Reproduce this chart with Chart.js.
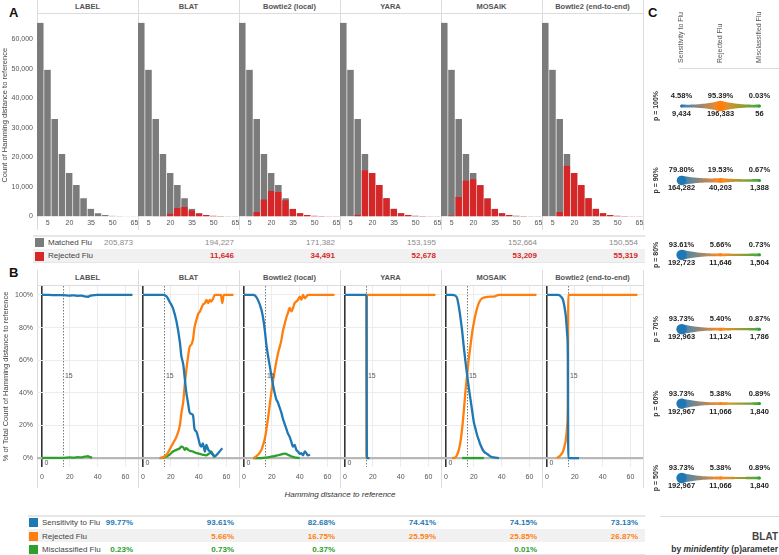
<!DOCTYPE html>
<html>
<head>
<meta charset="utf-8">
<script src="https://cdn.jsdelivr.net/npm/chart.js@4.4.0/dist/chart.umd.min.js"></script>
<style>
  body { margin: 0; background: #fff; }
  #fig { position: relative; width: 779px; height: 555px; overflow: hidden; font-family: "Liberation Sans", Arial, Helvetica, sans-serif; }
  #fig canvas, #fig div { position: absolute; }
  .txt { white-space: nowrap; }
</style>
</head>
<body>
<div id="fig"></div>
<script>
// ---- data ----
const methods = ["LABEL", "BLAT", "Bowtie2 (local)", "YARA", "MOSAIK", "Bowtie2 (end-to-end)"];
const outcomeNames = ["Sensitivity to Flu", "Rejected Flu", "Misclassified Flu"];

// panel A: histogram of hamming distance (bins of 5)
const binDist = [0, 5, 10, 15, 20, 25, 30, 35, 40, 45, 50, 55, 60, 65];
const binTicks = [5, 20, 35, 50, 65];
const countTicks = [0, 10000, 20000, 30000, 40000, 50000, 60000];
const allBins = [65600, 49700, 33000, 21200, 14700, 10700, 6200, 2600, 1100, 500, 250, 150, 100, 60];
const labelRejBins = [0, 0, 0, 0, 0, 0, 0, 0, 0, 0, 0, 0, 0, 0];
const blatRejBins = [0, 30, 80, 250, 950, 2850, 3250, 2050, 1050, 480, 240, 140, 100, 60];
const localRejBins = [0, 100, 1500, 5800, 8600, 8300, 5500, 2500, 1100, 500, 250, 150, 100, 60];
const yaraRejBins = [0, 0, 600, 15700, 14700, 10700, 6200, 2600, 1100, 500, 250, 150, 100, 60];
const mosaikRejBins = [0, 300, 6600, 12200, 12600, 10600, 6100, 2550, 1100, 500, 250, 150, 100, 60];
const e2eRejBins = [0, 0, 1500, 17200, 14700, 10700, 6200, 2600, 1100, 500, 250, 150, 100, 60];

const matchedTotals = [205873, 194227, 171382, 153195, 152664, 150554];
const rejectedTotals = [null, 11646, 34491, 52678, 53209, 55319];

// panel B: % of reads per hamming distance
const distTicks = [0, 20, 40, 60];
const pctTicks = [0, 20, 40, 60, 80, 100];
const cutoffDist = 15;
const originDist = 0;

const labelDist = [0, 5, 10, 15, 20, 23, 26, 28, 30, 32, 33, 34, 36, 40, 50, 60, 65];
const labelSens = [100, 100, 99.9, 99.9, 99.6, 99.8, 99.5, 99.6, 99.3, 99.0, 98.9, 99.3, 99.8, 100, 100, 100, 100];
const labelRej = [];
const labelMis = [0, 0.1, 0.1, 0.1, 0.4, 0.2, 0.5, 0.4, 0.7, 1.0, 1.1, 0.7, 0.2];

const blatDist = [0, 5, 10, 12, 14.5, 17, 19, 21.5, 24, 26.5, 27.5, 29, 30, 31, 32.5, 33.5, 35, 36, 37, 38.5, 39.5, 41, 42, 43, 44.5, 45.5, 47, 48, 49, 50.5, 51.5, 53, 54, 56, 57, 58, 60, 65];
const blatSens = [100, 100, 100, 100, 100, 99, 96, 92, 84, 71, 63, 57, 49, 41, 33, 28, 27, 26, 18, 16, 13, 8, 7, 9, 4, 8, 5, 4, 3, 2, 1, 2, 3, 5, 6];
const blatRej = [null, null, null, 0, 0.5, 2, 5, 9, 13, 20, 27, 35, 45, 53, 63, 68, 70, 73, 80, 85, 88, 90, 92, 94, 95, 97, 95, 97, 96, 98, 100, 100, 100, 100, 95, 100, 100, 100];
const blatMis = [null, null, null, 0, 0.2, 1, 2, 4, 5, 6, 7, 6.5, 5, 6, 5, 4.5, 4.2, 4, 3.5, 3, 2.8, 2.5, 2.3, 2, 1.8, 1.6, 2.5, 3, 4, 1.6, 0.4];

const localDist = [0, 5, 6.5, 8, 10, 12.5, 13.7, 15, 16, 17.2, 18.4, 19.6, 20.8, 22, 23.2, 24.4, 25.6, 26.8, 28, 29.2, 30.4, 31.6, 32.8, 34, 35.2, 36.4, 37.6, 38.8, 40, 41.2, 42.4, 43.7, 44.8, 46, 47.5, 50, 55, 60, 65];
const localSens = [100, 100, 100, 99.6, 97, 91, 86, 78, 70, 63, 57, 51, 45, 40, 36, 34, 31, 28, 24, 21, 18, 15, 13, 10, 7, 8, 5, 4, 2.5, 3, 1.6, 4, 3, 1.6, 2];
const localRej = [null, null, 0, 0.5, 2, 5, 8, 12, 17, 24, 32, 40, 47, 53, 59, 64, 68, 72, 78, 82, 86, 89, 92, 90, 92, 95, 96, 97, 99, 97, 100, 98, 99, 100, 100, 100, 100, 100, 100];
const localMis = [null, null, 0, 0, 0, 0, 0.1, 0.2, 0.3, 0.4, 0.6, 0.8, 1, 1.2, 1.5, 1.7, 2, 2.2, 2.5, 2.7, 2.5, 2, 1.6, 1, 0.7, 0.4, 0.2, 0.1, 0];

const yaraDist = [0, 5, 10, 15, 15.4, 15.5, 15.7, 16, 17.5, 20, 30, 40, 50, 60, 65];
const yaraSens = [100, 100, 100, 100, 99, 60, 0, 0, 0];
const yaraRej = [null, null, null, null, null, 0, 100, 100, 100, 100, 100, 100, 100, 100, 100];
const yaraMis = [];

const mosaikDist = [0, 4.3, 6.7, 8, 9.2, 10.4, 11.6, 12.8, 14, 15.2, 16.4, 17.6, 18.8, 20, 21.2, 22.4, 23.6, 24.8, 27.2, 29.6, 32, 34.4, 38, 40, 50, 60, 65];
const mosaikSens = [100, 100, 99.6, 98, 93, 86, 78, 68, 59, 51, 43, 36, 29, 22, 18, 14, 11, 8, 4, 2.5, 1, 0.4, 0];
const mosaikRej = [null, 0, 0.4, 2, 5, 10, 18, 29, 41, 51, 61, 69, 77, 83, 88, 92, 95, 97, 98.4, 98.8, 99, 99, 100, 100, 100, 100, 100];
const mosaikMis = [null, null, null, null, null, null, 0, 0, 0, 0, 0, 0, 0, 0, 0, 0, 0, 0, 0];

const e2eDist = [0, 5, 7, 8, 9, 10, 11.5, 12.5, 13.5, 14.5, 15, 15.3, 16, 20, 23, 30, 40, 50, 60, 65];
const e2eSens = [100, 100, 100, 100, 99.8, 99, 97, 93, 87, 76, 62, 0, 0, 0, 0];
const e2eRej = [null, null, 0, 0.5, 1.2, 2, 4, 7, 11, 20, 35, 100, 100, 100, 100, 100, 100, 100, 100, 100];
const e2eMis = [];

const sensRate = [99.77, 93.61, 82.68, 74.41, 74.15, 73.13];
const rejRate = [null, 5.66, 16.75, 25.59, 25.85, 26.87];
const misRate = [0.23, 0.73, 0.37, null, 0.01, null];

// panel C: BLAT by minidentity parameter
const paramLabels = ["p = 100%", "p = 90%", "p = 80%", "p = 70%", "p = 60%", "p = 50%"];
const sensCount = [9434, 164282, 192723, 192963, 192967, 192967];
const sensPct = [4.58, 79.80, 93.61, 93.73, 93.73, 93.73];
const rejCount = [196383, 40203, 11646, 11124, 11066, 11066];
const rejPct = [95.39, 19.53, 5.66, 5.40, 5.38, 5.38];
const misCount = [56, 1388, 1504, 1786, 1840, 1840];
const misPct = [0.03, 0.67, 0.73, 0.87, 0.89, 0.89];

// ---- styling ----
const FONT = '"Liberation Sans", Arial, Helvetica, sans-serif';
const BLUE = "#1f77b4", ORANGE = "#ff7f0e", GREEN = "#2ca02c";
const GRAY = "#7b7b7b", RED = "#d62728";
const LINE = "#dcdcdc";
const FACET_LEFT = 37, FACET_W = 101;
const facetX = i => FACET_LEFT + FACET_W * i;

Chart.defaults.font.family = FONT;
Chart.defaults.animation = false;

const fig = document.getElementById("fig");

function box(left, top, width, height, css) {
  const d = document.createElement("div");
  Object.assign(d.style, {
    left: left + "px", top: top + "px", width: width + "px", height: height + "px"
  }, css || {});
  fig.appendChild(d);
  return d;
}

function text(str, left, top, width, height, css) {
  const d = box(left, top, width, height, Object.assign({
    lineHeight: height + "px", fontSize: "8px", color: "#444"
  }, css));
  d.className = "txt";
  d.textContent = str;
  return d;
}

function makeCanvas(left, top, width, height) {
  const c = document.createElement("canvas");
  c.width = width;
  c.height = height;
  Object.assign(c.style, { left: left + "px", top: top + "px", width: width + "px", height: height + "px" });
  fig.appendChild(c);
  return c;
}

const fmtCount = v => Number(v).toLocaleString("en-US");
const setTicks = vals => axis => { axis.ticks = vals.map(v => ({ value: v })); };

// ---- frames, headers ----
text("A", 9, 5, 14, 16, { fontSize: "13px", fontWeight: "bold", color: "#111" });
text("B", 9, 265, 14, 16, { fontSize: "13px", fontWeight: "bold", color: "#111" });
text("C", 648, 5, 14, 16, { fontSize: "13px", fontWeight: "bold", color: "#111" });

methods.forEach((m, i) => {
  text(m, facetX(i), 0, FACET_W, 13, { textAlign: "center", fontWeight: "bold", fontSize: "7.5px", color: "#555" });
  text(m, facetX(i), 271, FACET_W, 14, { textAlign: "center", fontWeight: "bold", fontSize: "7.5px", color: "#555" });
});
box(FACET_LEFT, 13, FACET_W * 6, 1, { background: LINE });
box(FACET_LEFT, 285, FACET_W * 6, 1, { background: LINE });
for (let i = 0; i <= 6; i++) {
  box(facetX(i), 0, 1, 230, { background: LINE });
  box(facetX(i), 270, 1, 218, { background: LINE });
}
text("Hamming distance to reference", FACET_LEFT, 488, FACET_W * 6, 13,
  { textAlign: "center", fontStyle: "italic", fontSize: "8px", color: "#333" });

// ---- panel A: histograms ----
const rejBinsByMethod = [labelRejBins, blatRejBins, localRejBins, yaraRejBins, mosaikRejBins, e2eRejBins];

methods.forEach((m, i) => {
  const first = i === 0;
  const left = first ? 0 : facetX(i);
  const width = first ? facetX(1) : FACET_W;
  const canvas = makeCanvas(left, 14, width, 218);
  new Chart(canvas, {
    type: "bar",
    data: {
      datasets: [
        {
          label: "Rejected Flu",
          data: binDist.map((d, k) => ({ x: d, y: rejBinsByMethod[i][k] })),
          backgroundColor: RED,
          order: 0
        },
        {
          label: "Matched Flu",
          data: binDist.map((d, k) => ({ x: d, y: allBins[k] })),
          backgroundColor: GRAY,
          order: 1
        }
      ]
    },
    options: {
      responsive: false,
      layout: { padding: 0, autoPadding: false },
      plugins: { legend: { display: false }, tooltip: { enabled: false } },
      datasets: {
        bar: {
          grouped: false,
          barPercentage: 1,
          categoryPercentage: 1,
          borderColor: "rgba(255,255,255,0.75)",
          borderWidth: { top: 0, right: 1, bottom: 0, left: 0 },
          borderSkipped: "start"
        }
      },
      scales: {
        x: {
          type: "linear", min: -2.5, max: 67.5, offset: false,
          grid: { display: false, drawTicks: false, offset: false }, border: { display: false },
          afterBuildTicks: setTicks(binTicks),
          ticks: { font: { size: 7 }, color: "#555", padding: 2, maxRotation: 0, autoSkip: false },
          afterFit: a => { a.height = 15.5; a.paddingLeft = 0; a.paddingRight = 0; }
        },
        y: {
          display: first, min: 0, max: 68600,
          grid: { display: false, drawTicks: false }, border: { display: false },
          afterBuildTicks: setTicks(countTicks),
          ticks: { font: { size: 7 }, color: "#555", padding: 4, callback: v => fmtCount(v) },
          title: { display: true, text: "Count of Hamming distance to reference", font: { size: 7.5 }, color: "#444", padding: { top: 0, bottom: 0 } },
          afterFit: a => { a.width = first ? FACET_LEFT : 0; a.paddingTop = 0; a.paddingBottom = 0; }
        }
      }
    }
  });
});

// table under panel A
box(33, 235, 612, 2, { background: "#e6e6e6" });
box(33, 249, 612, 13, { background: "#f1f1f1" });
box(33, 262, 612, 1, { background: "#e6e6e6" });
box(35, 238, 9, 9, { background: GRAY });
box(35, 252, 9, 9, { background: RED });
text("Matched Flu", 48, 237, 70, 12, { fontSize: "8px", color: "#444" });
text("Rejected Flu", 48, 250, 70, 12, { fontSize: "8px", color: "#444" });
methods.forEach((m, i) => {
  text(fmtCount(matchedTotals[i]), facetX(i), 237, FACET_W - 5, 12, { textAlign: "right", fontSize: "8px", color: "#8a8a8a" });
  if (rejectedTotals[i] != null) {
    text(fmtCount(rejectedTotals[i]), facetX(i), 250, FACET_W - 5, 12, { textAlign: "right", fontSize: "8px", color: RED, fontWeight: "bold" });
  }
});

// ---- panel B: rate curves ----
const curveFacets = [
  { dist: labelDist, sens: labelSens, rej: labelRej, mis: labelMis },
  { dist: blatDist, sens: blatSens, rej: blatRej, mis: blatMis },
  { dist: localDist, sens: localSens, rej: localRej, mis: localMis },
  { dist: yaraDist, sens: yaraSens, rej: yaraRej, mis: yaraMis },
  { dist: mosaikDist, sens: mosaikSens, rej: mosaikRej, mis: mosaikMis },
  { dist: e2eDist, sens: e2eSens, rej: e2eRej, mis: e2eMis }
];
const pts = (dist, vals) => dist.map((d, k) => ({ x: d, y: vals[k] })).filter(p => p.y != null);

const markerPlugin = {
  id: "markers",
  beforeDatasetsDraw(chart) {
    const { ctx, chartArea, scales: { x } } = chart;
    const px = Math.round(x.getPixelForValue(cutoffDist)) + 0.5;
    ctx.save();
    ctx.strokeStyle = "#7a7a7a";
    ctx.lineWidth = 1;
    ctx.setLineDash([1.5, 1.5]);
    ctx.beginPath();
    ctx.moveTo(px, chartArea.top);
    ctx.lineTo(px, chartArea.bottom);
    ctx.stroke();
    ctx.restore();
  },
  afterDatasetsDraw(chart) {
    const { ctx, scales: { x, y } } = chart;
    ctx.save();
    ctx.font = "7px " + FONT;
    ctx.fillStyle = "#555";
    ctx.textBaseline = "middle";
    ctx.fillText(String(cutoffDist), x.getPixelForValue(cutoffDist) + 2, y.getPixelForValue(50));
    ctx.fillText(String(originDist), x.getPixelForValue(originDist) + 2.5, y.getPixelForValue(-3));
    ctx.restore();
  }
};

curveFacets.forEach((f, i) => {
  const first = i === 0;
  const left = first ? 0 : facetX(i);
  const width = first ? facetX(1) : FACET_W;
  const canvas = makeCanvas(left, 286, width, 201);
  const line = (data, color, order) => ({
    data, borderColor: color, borderWidth: 2.3, pointRadius: 0,
    cubicInterpolationMode: "monotone", fill: false, order
  });
  new Chart(canvas, {
    type: "line",
    data: {
      datasets: [
        line(pts(f.dist, f.sens), BLUE, 0),
        line(pts(f.dist, f.rej), ORANGE, 1),
        line(pts(f.dist, f.mis), GREEN, 2)
      ]
    },
    options: {
      responsive: false,
      layout: { padding: 0, autoPadding: false },
      plugins: { legend: { display: false }, tooltip: { enabled: false } },
      scales: {
        x: {
          type: "linear", min: -3.6, max: 69,
          border: { display: false },
          grid: {
            drawTicks: false,
            color: c => (c.tick && c.tick.value === originDist ? "#333" : "#ececec"),
            lineWidth: c => (c.tick && c.tick.value === originDist ? 1.6 : 1)
          },
          afterBuildTicks: setTicks(distTicks),
          ticks: { font: { size: 7 }, color: "#555", padding: 6, maxRotation: 0, autoSkip: false },
          afterFit: a => { a.height = 20; a.paddingLeft = 0; a.paddingRight = 0; }
        },
        y: {
          min: -5.5, max: 105.5,
          border: { display: false },
          grid: {
            drawTicks: false,
            color: c => (c.tick && c.tick.value === 0 ? "#b8b8b8" : "#ececec"),
            lineWidth: c => (c.tick && c.tick.value === 0 ? 2.2 : 1)
          },
          afterBuildTicks: setTicks(pctTicks),
          ticks: { display: first, font: { size: 7 }, color: "#555", padding: 4, callback: v => v + "%" },
          title: { display: first, text: "% of Total Count of Hamming distance to reference", font: { size: 7.5 }, color: "#444", padding: { top: 1, bottom: 0 } },
          afterFit: a => { a.width = first ? FACET_LEFT : 0; a.paddingTop = 0; a.paddingBottom = 0; }
        }
      }
    },
    plugins: [markerPlugin]
  });
});

// table under panel B
const rateRows = [sensRate, rejRate, misRate];
const rateColors = [BLUE, ORANGE, GREEN];
box(28, 515, 617, 2, { background: "#e6e6e6" });
box(28, 529, 617, 13, { background: "#f1f1f1" });
box(28, 554, 617, 1, { background: "#e6e6e6" });
rateRows.forEach((row, r) => {
  const top = 516 + r * 13.5;
  box(29, top + 2, 9, 9, { background: rateColors[r] });
  text(outcomeNames[r], 42, top, 80, 13, { fontSize: "8px", color: "#444" });
  row.forEach((v, i) => {
    if (v == null) return;
    text(v.toFixed(2) + "%", facetX(i), top, FACET_W - 5, 13,
      { textAlign: "right", fontSize: "8px", color: rateColors[r], fontWeight: "bold" });
  });
});

// ---- panel C: outcome flow per minidentity ----
const outcomeCounts = [sensCount, rejCount, misCount];
const outcomePct = [sensPct, rejPct, misPct];
const maxCount = Math.max(...sensCount, ...rejCount, ...misCount);
const dotRadius = c => Math.max(1.5, 5.2 * Math.sqrt(c / maxCount));

const flowPlugin = {
  id: "flow",
  beforeDatasetsDraw(chart) {
    const { ctx, scales: { x, y } } = chart;
    const xs = [0, 1, 2].map(k => x.getPixelForValue(k));
    paramLabels.forEach((p, row) => {
      const py = y.getPixelForValue(row);
      const rs = outcomeCounts.map(arr => dotRadius(arr[row]));
      const top = [];
      for (let seg = 0; seg < 2; seg++) {
        const a = rs[seg], b = rs[seg + 1], lo = Math.min(a, b) * 0.45;
        for (let s = 0; s <= 24; s++) {
          const t = s / 24;
          const r = lo + (a - lo) * (1 - t) * (1 - t) + (b - lo) * t * t;
          top.push([xs[seg] + (xs[seg + 1] - xs[seg]) * t, r]);
        }
      }
      const grad = ctx.createLinearGradient(xs[0], 0, xs[2], 0);
      grad.addColorStop(0, BLUE);
      grad.addColorStop(0.5, ORANGE);
      grad.addColorStop(1, GREEN);
      ctx.save();
      ctx.globalAlpha = 0.9;
      ctx.fillStyle = grad;
      ctx.beginPath();
      top.forEach(([px, r], k) => (k ? ctx.lineTo(px, py - r) : ctx.moveTo(px, py - r)));
      for (let k = top.length - 1; k >= 0; k--) ctx.lineTo(top[k][0], py + top[k][1]);
      ctx.closePath();
      ctx.fill();
      ctx.restore();
    });
  },
  afterDatasetsDraw(chart) {
    const { ctx, scales: { x, y } } = chart;
    ctx.save();
    ctx.textAlign = "center";
    ctx.textBaseline = "middle";
    ctx.fillStyle = "#222";
    paramLabels.forEach((p, row) => {
      const py = y.getPixelForValue(row);
      ctx.font = "bold 7.5px " + FONT;
      outcomeNames.forEach((n, k) => {
        const px = x.getPixelForValue(k);
        ctx.fillText(outcomePct[k][row].toFixed(2) + "%", px, py - 10);
        ctx.fillText(fmtCount(outcomeCounts[k][row]), px, py + 8);
      });
      ctx.save();
      ctx.translate(x.getPixelForValue(0) - 25, py);
      ctx.rotate(-Math.PI / 2);
      ctx.font = "bold 7px " + FONT;
      ctx.fillStyle = "#333";
      ctx.fillText(p, 0, 0);
      ctx.restore();
    });
    ctx.font = "7px " + FONT;
    ctx.fillStyle = "#555";
    ctx.textAlign = "left";
    outcomeNames.forEach((n, k) => {
      ctx.save();
      ctx.translate(x.getPixelForValue(k), 63);
      ctx.rotate(-Math.PI / 2);
      ctx.fillText(n, 0, 0);
      ctx.restore();
    });
    ctx.restore();
  }
};

const cCanvas = makeCanvas(645, 0, 134, 512);
new Chart(cCanvas, {
  type: "scatter",
  data: {
    datasets: outcomeCounts.map((counts, k) => ({
      label: outcomeNames[k],
      data: counts.map((c, row) => ({ x: k, y: row })),
      backgroundColor: rateColors[k],
      borderWidth: 0,
      pointRadius: ctx => dotRadius(counts[ctx.dataIndex]),
      clip: false
    }))
  },
  options: {
    responsive: false,
    layout: { padding: 0, autoPadding: false },
    plugins: { legend: { display: false }, tooltip: { enabled: false } },
    scales: {
      x: { display: false, min: -0.936, max: 2.5 },
      y: { display: false, reverse: true, min: -1.425, max: 5.457 }
    }
  },
  plugins: [flowPlugin]
});

box(679, 68, 100, 1, { background: LINE });
box(660, 516, 119, 1, { background: LINE });
text("BLAT", 600, 530, 178, 13, { textAlign: "right", fontSize: "10px", fontWeight: "bold", color: "#444" });
const byLine = text("", 560, 543, 218, 12, { textAlign: "right", fontSize: "8.5px", fontWeight: "bold", color: "#333" });
byLine.innerHTML = "by <i>minidentity</i> (p)arameter";
</script>
</body>
</html>
